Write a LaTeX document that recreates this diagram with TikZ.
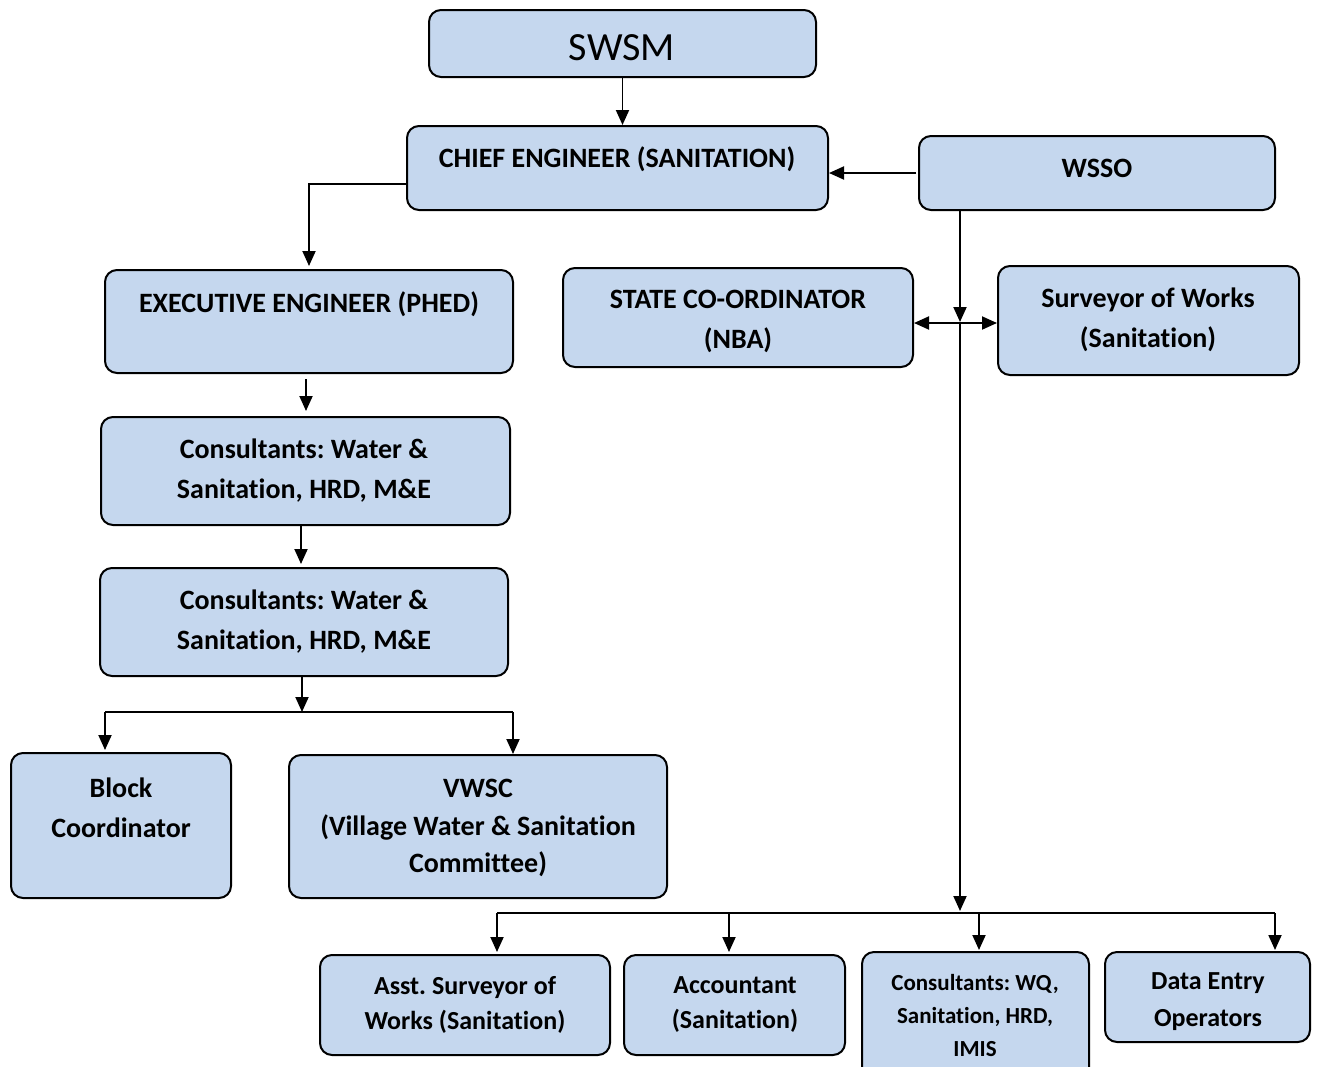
\documentclass[tikz,border=0pt]{standalone}
\usepackage{fontspec}
\setmainfont{Carlito}[Ligatures=CommonOff]
\usetikzlibrary{arrows.meta}
\definecolor{boxfill}{RGB}{197,215,238}
\tikzset{
  box/.style={draw=black, line width=2pt, fill=boxfill, rounded corners=12pt, inner sep=0pt},
  lbl/.style={font=\frenchspacing\bfseries\fontsize{28}{40}\selectfont, align=center, inner sep=0pt},
  slbl/.style={font=\frenchspacing\bfseries\fontsize{23}{33}\selectfont, align=center, inner sep=0pt},
  arr/.style={-{Triangle[length=15pt,width=13pt]}, line width=1.9pt},
  dbl/.style={{Triangle[length=15pt,width=13pt]}-{Triangle[length=15pt,width=13pt]}, line width=1.9pt},
  ln/.style={line width=1.9pt}
}
\begin{document}
\frenchspacing
\begin{tikzpicture}[x=1pt,y=-1pt]
\useasboundingbox (0,0) rectangle (1320,1066);
\fill[white] (0,0) rectangle (1320,1066);

% boxes
\node[box, minimum width=387pt, minimum height=67pt] (swsm) at (622.5,43.5) {};
\node[box, minimum width=421pt, minimum height=84pt] (chief) at (617.5,168) {};
\node[box, minimum width=356pt, minimum height=74pt] (wsso) at (1097,173) {};
\node[box, minimum width=408pt, minimum height=103pt] (exec) at (309,321.5) {};
\node[box, minimum width=350pt, minimum height=99pt] (state) at (738,317.5) {};
\node[box, minimum width=301pt, minimum height=109pt] (surv) at (1148.5,320.5) {};
\node[box, minimum width=409pt, minimum height=108pt] (cons1) at (305.5,471) {};
\node[box, minimum width=408pt, minimum height=108pt] (cons2) at (304,622) {};
\node[box, minimum width=220pt, minimum height=145pt] (block) at (121,825.5) {};
\node[box, minimum width=378pt, minimum height=143pt] (vwsc) at (478,826.5) {};
\node[box, minimum width=290pt, minimum height=100pt] (asst) at (465,1005) {};
\node[box, minimum width=221pt, minimum height=100pt] (acct) at (734.5,1005) {};
\node[box, minimum width=227pt, minimum height=128pt] (cwq) at (975.5,1016) {};
\node[box, minimum width=205pt, minimum height=90pt] (data) at (1207.5,997) {};

% texts
\node[inner sep=0pt, font=\fontsize{40}{48}\selectfont] (swsm-t) at (622,48) {SWSM};
\node[lbl] (chief-t) at (617,159) {CHIEF ENGINEER (SANITATION)};
\node[lbl] (wsso-t) at (1097,168) {WSSO};
\node[lbl] (exec-t) at (309,304) {EXECUTIVE ENGINEER (PHED)};
\node[lbl] (state-t) at (738,321) {STATE CO-ORDINATOR\\(NBA)};
\node[lbl] (surv-t) at (1148,320) {Surveyor of Works\\(Sanitation)};
\node[lbl] (cons1-t) at (304,471) {Consultants: Water \&\\Sanitation, HRD, M\&E};
\node[lbl] (cons2-t) at (304,622) {Consultants: Water \&\\Sanitation, HRD, M\&E};
\node[lbl] (block-t) at (121,808) {Block\\Coordinator};
\node[lbl, font=\frenchspacing\bfseries\fontsize{28}{37.5}\selectfont] (vwsc-t) at (478,828) {VWSC\\(Village Water \& Sanitation\\Committee)};
\node[lbl, font=\frenchspacing\bfseries\fontsize{26}{35}\selectfont] (asst-t) at (465,1004.5) {Asst. Surveyor of\\Works (Sanitation)};
\node[lbl, font=\frenchspacing\bfseries\fontsize{26}{35}\selectfont] (acct-t) at (735,1004.5) {Accountant\\(Sanitation)};
\node[slbl] (cwq-t) at (975,1015.5) {Consultants: WQ,\\Sanitation, HRD,\\IMIS};
\node[lbl, font=\frenchspacing\bfseries\fontsize{26}{37}\selectfont] (data-t) at (1208,1001.5) {Data Entry\\Operators};

% coordinates
\coordinate (jn) at (960,323);
\coordinate (bus) at (960,913);
\coordinate (b1) at (497,913);
\coordinate (b2) at (729,913);
\coordinate (b3) at (979,913);
\coordinate (b4) at (1275,913);
\coordinate (br) at (302,712);
\coordinate (bl) at (105,712);
\coordinate (bv) at (513,712);

% connectors
\draw[arr] (swsm.south) -- (swsm.south |- chief.north);
\draw[arr, shorten >=3pt] ([yshift=-16pt]chief.west) -| (exec.north);
\draw[arr] ([xshift=-2pt]wsso.west) -- (wsso.west -| chief.east);
\draw[arr] (wsso.south -| jn) -- ([yshift=1pt]jn);
\draw[dbl] (state.east |- jn) -- (surv.west |- jn);
\draw[arr] (jn) -- ([yshift=2pt]bus);
\draw[ln] (b1) -- (b4);
\draw[arr, shorten >=2pt] (b1) -- (b1 |- asst.north);
\draw[arr, shorten >=2pt] (b2) -- (b2 |- acct.north);
\draw[arr, shorten >=1pt] (b3) -- (b3 |- cwq.north);
\draw[arr, shorten >=1pt] (b4) -- (b4 |- data.north);
\draw[arr, shorten <=5pt, shorten >=5pt] ([xshift=-3pt]exec.south) -- ([xshift=-3pt]exec.south |- cons1.north);
\draw[arr, shorten >=3pt] (cons1.south -| 301,0) -- (cons2.north -| 301,0);
\draw[arr] (cons2.south -| br) -- (br);
\draw[ln] (bl) -- (bv);
\draw[arr, shorten >=2pt] (bl) -- (bl |- block.north);
\draw[arr] (bv) -- (bv |- vwsc.north);
\end{tikzpicture}
\end{document}
